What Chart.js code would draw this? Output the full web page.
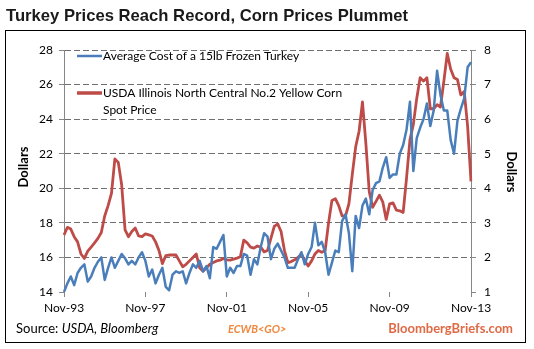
<!DOCTYPE html>
<html>
<head>
<meta charset="utf-8">
<script src="https://cdn.jsdelivr.net/npm/chart.js@4.4.1/dist/chart.umd.min.js"></script>
<style>
  body { margin: 0; background: #fff; }
  #wrap { width: 534px; height: 349px; }
</style>
</head>
<body>
<div id="wrap"><canvas id="chart" width="534" height="349"></canvas></div>
<script>
// bimonthly points, Nov-93 .. Nov-13
var monthNames = ['Jan','Feb','Mar','Apr','May','Jun','Jul','Aug','Sep','Oct','Nov','Dec'];
var categories = [];
for (var i = 0; i < 121; i++) {
  var m = 10 + 2 * i;
  var yr = (93 + Math.floor(m / 12)) % 100;
  categories.push(monthNames[m % 12] + '-' + String(yr).padStart(2, '0'));
}
var tickLabels = ['Nov-93', 'Nov-97', 'Nov-01', 'Nov-05', 'Nov-09', 'Nov-13'];

// Average Cost of a 15lb Frozen Turkey (left axis, dollars)
var turkey = [
  14.0, 14.5, 14.9, 14.4, 15.1, 15.4, 15.6, 14.6, 14.9, 15.4,
  15.75, 16.0, 14.7, 15.4, 16.0, 15.4, 15.8, 16.2, 15.95, 15.6,
  15.8, 15.6, 16.0, 16.3, 15.8, 14.9, 15.3, 14.5, 15.0, 15.4,
  14.3, 14.1, 15.0, 15.2, 15.1, 15.2, 14.5, 15.1, 15.6, 15.4,
  15.8, 15.2, 15.5, 14.8, 16.6, 16.5, 16.9, 17.3, 14.9, 15.4,
  15.1, 15.5, 15.5, 16.2, 16.1, 15.0, 15.9, 15.6, 16.6, 17.4,
  17.2, 15.9, 16.5, 16.8, 16.4, 16.0, 15.4, 15.4, 15.4, 15.9,
  16.3, 15.6, 16.2, 16.6, 18.0, 16.7, 16.9, 16.3, 15.0, 15.7,
  16.4, 16.3, 18.1, 18.5, 17.4, 15.2, 18.4, 17.7, 19.0, 19.4,
  18.5, 19.9, 20.3, 20.4, 21.2, 21.8, 20.6, 20.8, 20.8, 22.0,
  22.5, 23.4, 25.0, 21.0, 22.9, 23.5, 24.0, 24.9, 23.6, 24.5,
  26.8, 25.4, 24.5, 24.5, 22.8, 22.0, 23.9, 24.6, 25.2, 27.0,
  27.3
];

// USDA Illinois North Central No.2 Yellow Corn spot price (right axis, dollars)
var corn = [
  2.65, 2.87, 2.82, 2.6, 2.45, 2.1, 1.97, 2.18, 2.3, 2.42,
  2.55, 2.72, 3.2, 3.5, 3.85, 4.85, 4.75, 4.1, 2.8, 2.6,
  2.75, 2.85, 2.62, 2.6, 2.68, 2.65, 2.62, 2.45, 2.2, 1.82,
  2.05, 2.07, 2.07, 2.07, 1.9, 1.73, 1.8, 1.9, 2.0, 2.1,
  1.7, 1.6, 1.7, 1.8, 1.85, 1.9, 1.92, 1.97, 1.93, 1.92,
  1.95, 1.98, 2.02, 2.5, 2.42, 2.3, 2.27, 2.33, 2.3, 2.16,
  2.2, 2.55, 2.9, 2.97, 2.75, 2.2, 1.85, 1.88, 1.93, 2.0,
  2.1, 1.9, 1.75, 1.9, 2.1, 2.2, 2.15, 2.2, 3.0, 3.65,
  3.7, 3.5, 3.2, 3.2, 3.55, 4.4, 5.2, 5.65, 6.5, 5.3,
  3.9, 3.45, 3.62, 3.8, 3.6, 3.1, 3.55, 3.58, 3.37, 3.35,
  3.3, 4.3, 5.4, 5.85, 6.6, 7.2, 7.1, 7.2, 6.3, 6.3,
  6.42, 6.35, 7.1, 7.9, 7.45, 7.2, 7.15, 6.7, 6.8, 5.8,
  4.2
];

var blue = '#4a7ebb';
var red = '#be4b48';
var axisGrey = '#868686';

Chart.defaults.font.family = 'Lato';
Chart.defaults.color = '#000';

// frame, title, axis titles, legend and footer
var decor = {
  id: 'decor',
  afterDraw: function (chart) {
    var ctx = chart.ctx;
    ctx.save();
    ctx.strokeStyle = '#000';
    ctx.lineWidth = 1;
    ctx.strokeRect(5.5, 30.5, 520, 312);

    // title
    var title = 'Turkey Prices Reach Record, Corn Prices Plummet';
    ctx.fillStyle = '#1a1a1a';
    ctx.font = 'bold 17px "Liberation Sans"';
    ctx.textAlign = 'left';
    ctx.textBaseline = 'alphabetic';
    var tw = ctx.measureText(title).width;
    ctx.save();
    ctx.translate(6, 21);
    ctx.scale(Math.min(1, 402 / tw), 1);
    ctx.fillText(title, 0, 0);
    ctx.restore();

    // axis titles
    ctx.fillStyle = '#000';
    ctx.font = 'bold 13px Lato';
    ctx.textAlign = 'center';
    ctx.textBaseline = 'middle';
    ctx.save();
    ctx.translate(24, 167);
    ctx.rotate(-Math.PI / 2);
    ctx.fillText('Dollars', 0, 0);
    ctx.restore();
    ctx.save();
    ctx.translate(511, 172);
    ctx.rotate(Math.PI / 2);
    ctx.fillText('Dollars', 0, 0);
    ctx.restore();

    // legend
    ctx.lineCap = 'butt';
    ctx.strokeStyle = blue;
    ctx.lineWidth = 2.5;
    ctx.beginPath(); ctx.moveTo(77, 56); ctx.lineTo(102, 56); ctx.stroke();
    ctx.strokeStyle = red;
    ctx.lineWidth = 3.5;
    ctx.beginPath(); ctx.moveTo(77, 93); ctx.lineTo(102, 93); ctx.stroke();
    ctx.font = '12px Lato';
    ctx.textAlign = 'left';
    ctx.fillStyle = '#000';
    ctx.fillText('Average Cost of a 15lb Frozen Turkey', 103, 56);
    ctx.fillText('USDA Illinois North Central No.2 Yellow Corn', 103, 93);
    ctx.fillText('Spot Price', 103, 110);

    // footer
    ctx.textBaseline = 'alphabetic';
    ctx.font = '13px Lato';
    ctx.fillText('Source: ', 16, 333);
    var sw = ctx.measureText('Source: ').width;
    ctx.font = 'italic 13px Lato';
    ctx.fillText('USDA, Bloomberg', 16 + sw, 333);
    ctx.font = 'italic bold 11px Lato';
    ctx.fillStyle = '#f0883e';
    ctx.fillText('ECWB<GO>', 228, 333);
    ctx.font = 'bold 13px Lato';
    ctx.fillStyle = '#e06a45';
    ctx.textAlign = 'right';
    ctx.fillText('BloombergBriefs.com', 513, 333);
    ctx.restore();
  }
};

var ctx = document.getElementById('chart').getContext('2d');
new Chart(ctx, {
  type: 'line',
  data: {
    labels: categories,
    datasets: [
      {
        label: 'Average Cost of a 15lb Frozen Turkey',
        data: turkey,
        yAxisID: 'y',
        borderColor: blue,
        borderWidth: 2.5,
        pointRadius: 0,
        tension: 0,
        borderJoinStyle: 'round'
      },
      {
        label: 'USDA Illinois North Central No.2 Yellow Corn Spot Price',
        data: corn,
        yAxisID: 'y1',
        borderColor: red,
        borderWidth: 2.8,
        pointRadius: 0,
        tension: 0,
        borderJoinStyle: 'round'
      }
    ]
  },
  options: {
    responsive: false,
    animation: false,
    layout: { padding: { left: 0, right: 0, top: 50, bottom: 35 } },
    plugins: {
      legend: { display: false },
      tooltip: { enabled: false }
    },
    scales: {
      x: {
        type: 'category',
        afterFit: function (s) { s.height = 22; },
        border: { display: false },
        grid: {
          drawOnChartArea: false,
          drawTicks: true,
          tickLength: 5,
          color: function (c) { return c.index % 24 === 0 ? axisGrey : 'rgba(0,0,0,0)'; }
        },
        ticks: {
          autoSkip: false,
          maxRotation: 0,
          padding: 4,
          font: { size: 12 },
          callback: function (v, i) {
            var lab = categories[i];
            return tickLabels.indexOf(lab) >= 0 ? lab : '';
          }
        }
      },
      y: {
        position: 'left',
        min: 14,
        max: 28,
        afterFit: function (s) { s.width = 64; },
        border: { display: true, color: axisGrey, width: 1, dash: [6, 3] },
        grid: {
          color: function (c) { return c.tick && c.tick.value === 14 ? 'rgba(0,0,0,0)' : '#6f6f6f'; },
          tickColor: axisGrey,
          tickBorderDash: [],
          tickLength: 5
        },
        ticks: { stepSize: 2, padding: 6, font: { size: 12 } }
      },
      y1: {
        position: 'right',
        min: 1,
        max: 8,
        afterFit: function (s) { s.width = 63; },
        border: { display: true, color: axisGrey, width: 1 },
        grid: {
          drawOnChartArea: false,
          tickColor: axisGrey,
          tickLength: 5
        },
        ticks: { stepSize: 1, padding: 8, font: { size: 12 } }
      }
    }
  },
  plugins: [decor]
});
</script>
</body>
</html>
